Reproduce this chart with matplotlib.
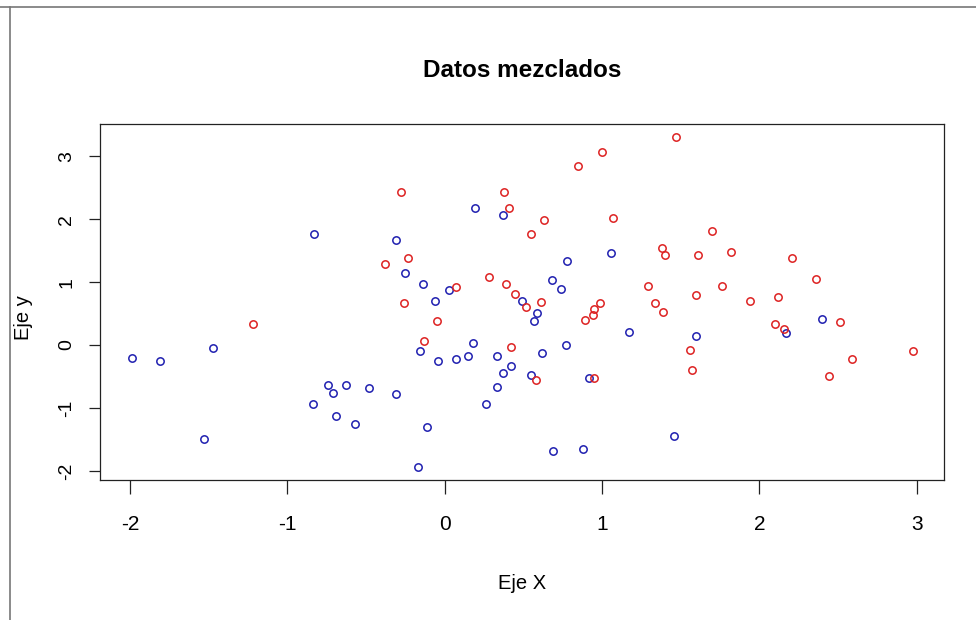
import matplotlib
matplotlib.use('Agg')
import matplotlib.pyplot as plt
from matplotlib.lines import Line2D

# ---- data ----
blue_x = [-0.83, -1.99, -1.81, -1.47, -0.74, -0.71, -0.63, -0.48, -0.84, -0.69, -0.57, -1.53,
          0.19, 0.37, -0.31, -0.25, -0.14, 0.03, -0.06, 0.78, 0.68, 0.74, 0.49, 0.59, 0.57,
          0.18, -0.16, -0.04, 0.07, 0.15, 0.33, 0.42, 0.37, 0.62, 0.77, 0.55, 0.33, -0.31,
          0.26, -0.11, -0.17, 0.69, 1.06, 1.17, 1.60, 0.92, 1.46, 0.88, 2.40, 2.17]
blue_y = [1.77, -0.20, -0.26, -0.05, -0.64, -0.76, -0.64, -0.68, -0.93, -1.13, -1.25, -1.49,
          2.18, 2.07, 1.67, 1.15, 0.97, 0.87, 0.70, 1.34, 1.03, 0.89, 0.70, 0.51, 0.38,
          0.03, -0.09, -0.26, -0.23, -0.17, -0.17, -0.33, -0.45, -0.12, 0.00, -0.48, -0.66, -0.78,
          -0.94, -1.30, -1.94, -1.68, 1.46, 0.21, 0.14, -0.52, -1.44, -1.65, 0.42, 0.19]

red_x = [-1.22, -0.38, -0.28, 0.38, 0.41, 0.63, 0.55, 0.85, -0.23, -0.26, 0.07, 0.28,
         0.39, 0.45, 0.52, 0.61, -0.05, -0.13, 0.42, 0.58,
         1.47, 1.00, 1.07, 1.70, 1.38, 1.40, 1.61, 1.82, 1.29, 1.76, 1.60, 1.94, 1.34, 1.39,
         0.99, 0.95, 0.94, 0.89, 1.56, 1.57, 0.95,
         2.21, 2.36, 2.12, 2.10, 2.16, 2.51, 2.98, 2.59, 2.44]
red_y = [0.33, 1.29, 2.43, 2.43, 2.18, 1.98, 1.77, 2.85, 1.39, 0.66, 0.92, 1.08,
         0.97, 0.81, 0.60, 0.68, 0.38, 0.07, -0.03, -0.55,
         3.30, 3.06, 2.02, 1.82, 1.54, 1.43, 1.43, 1.48, 0.94, 0.94, 0.80, 0.70, 0.66, 0.52,
         0.66, 0.58, 0.47, 0.40, -0.08, -0.40, -0.52,
         1.39, 1.05, 0.77, 0.33, 0.26, 0.36, -0.09, -0.22, -0.50]

x_ticks = [-2, -1, 0, 1, 2, 3]
y_ticks = [-2, -1, 0, 1, 2, 3]
x_tick_labels = ['-2', '-1', '0', '1', '2', '3']
y_tick_labels = ['-2', '-1', '0', '1', '2', '3']

title_text = 'Datos mezclados'
x_label = 'Eje X'
y_label = 'Eje y'

BLUE = '#2020b0'
RED = '#dd2222'

plt.rcParams['axes.unicode_minus'] = False
FAM = ['Liberation Sans', 'DejaVu Sans']

W, H = 976, 620
fig = plt.figure(figsize=(W / 100, H / 100), dpi=100)
fig.patch.set_facecolor('white')

# axes box: left 100, right 944, top 124, bottom 480 (pixels)
ax = fig.add_axes([100 / W, (H - 480) / H, 844 / W, 356 / H])
ax.plot(blue_x, blue_y, linestyle='none', marker='o', mfc='none', mec=BLUE,
        ms=5.3, mew=1.1)
ax.plot(red_x, red_y, linestyle='none', marker='o', mfc='none', mec=RED,
        ms=5.3, mew=1.1)

ax.set_xlim(-2.191, 3.174)
ax.set_ylim(-2.146, 3.513)

for s in ax.spines.values():
    s.set_linewidth(0.9)
    s.set_color('#222222')

ax.set_xticks(x_ticks)
ax.set_xticklabels(x_tick_labels)
ax.set_yticks(y_ticks)
ax.set_yticklabels(y_tick_labels, rotation=90, va='center')
ax.tick_params(axis='x', length=10, width=0.9, pad=15, labelsize=15, colors='#222222',
               labelcolor='black')
ax.tick_params(axis='y', length=7.7, width=0.9, pad=10, labelsize=14, colors='#222222',
               labelcolor='black')
for t in ax.get_xticklabels() + ax.get_yticklabels():
    t.set_fontfamily(FAM)

# title and axis labels
fig.text(522 / W, (H - 77) / H, title_text, ha='center', va='baseline',
         fontsize=17.5, fontweight='bold', family=FAM)
fig.text(522 / W, (H - 589) / H, x_label, ha='center', va='baseline',
         fontsize=14.5, family=FAM)
fig.text(23.5 / W, 302 / H, y_label, ha='center', va='center', rotation=90,
         fontsize=14.5, family=FAM)

# outer frame lines (top and left)
fig.add_artist(Line2D([0, 1], [(H - 7) / H, (H - 7) / H], transform=fig.transFigure,
                      color='#777777', lw=1.2))
fig.add_artist(Line2D([10 / W, 10 / W], [0, (H - 7) / H], transform=fig.transFigure,
                      color='#777777', lw=1.2))

fig.savefig('out.png', dpi=100)
